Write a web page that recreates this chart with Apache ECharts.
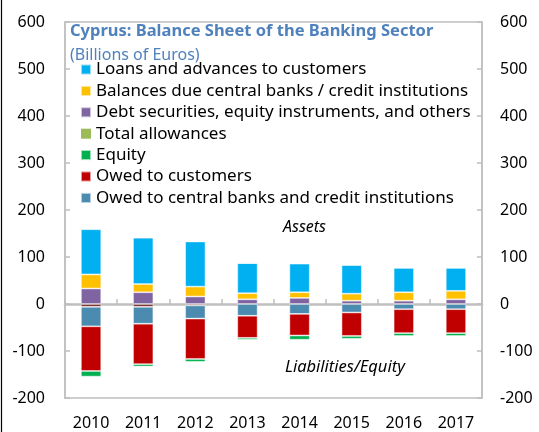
<!DOCTYPE html>
<html>
<head>
<meta charset="utf-8">
<script src="https://cdn.jsdelivr.net/npm/echarts@6/dist/echarts.min.js"></script>
<style>
html,body{margin:0;padding:0;background:#fff;}
#chart{width:539px;height:432px;}
</style>
</head>
<body>
<div id="chart"></div>
<script>
const categories = ['2010','2011','2012','2013','2014','2015','2016','2017'];
const debtSecurities = [33, 25, 16, 10, 13, 7, 7, 10];
const balancesDue = [30, 17.5, 21, 13, 12, 15, 18, 18];
const loans = [96, 98.5, 96, 64, 61, 61, 52, 49];
const totalAllowances = [-6, -6, -3, 0, 0, 0, 0, 0];
const owedCentralBanks = [-41.5, -36, -28, -25, -21, -18, -11, -11];
const owedCustomers = [-95, -86, -86, -47, -46, -50, -51, -51];
const equity = [-12, -5, -6, -4, -9, -6, -6, -6];
const yTicks = { min: -200, max: 600, interval: 100 };

const FONT = 'Noto Sans';
const chart = echarts.init(document.getElementById('chart'), null, {renderer: 'canvas'});
const border = {borderColor: 'rgba(255,255,255,0.6)', borderWidth: 0.8};
function s(name, data, color, extra) {
  return Object.assign({
    name: name, type: 'bar', stack: 'bs', data: data, barWidth: '39%',
    xAxisIndex: 0, yAxisIndex: 0,
    itemStyle: Object.assign({color: color}, border)
  }, extra || {});
}
const option = {
  animation: false,
  textStyle: {fontFamily: FONT},
  legend: {
    orient: 'vertical', left: 80, top: 61, padding: 0,
    itemWidth: 10, itemHeight: 10, itemGap: 4.4,
    icon: 'rect',
    textStyle: {fontSize: 17, color: '#000', lineHeight: 17, fontFamily: FONT},
    data: [
      'Loans and advances to customers',
      'Balances due central banks / credit institutions',
      'Debt securities, equity instruments, and others',
      {name: 'Total allowances', itemStyle: {color: '#9BBB59', borderWidth: 0}},
      'Equity',
      'Owed to customers',
      'Owed to central banks and credit institutions'
    ]
  },
  grid: {left: 65, right: 57, top: 22, bottom: 34, show: true, borderColor: '#BFBFBF', borderWidth: 1.5},
  xAxis: [
    {type: 'category', data: categories, position: 'bottom',
     axisLine: {onZero: true, onZeroAxisIndex: 0, lineStyle: {color: '#BFBFBF', width: 2.5}},
     axisTick: {show: true, inside: true, length: 5, alignWithLabel: false, lineStyle: {color: '#BFBFBF', width: 1.5}},
     axisLabel: {show: false}},
    {type: 'category', data: categories, position: 'bottom', offset: 0,
     axisLine: {show: false}, axisTick: {show: false},
     axisLabel: {show: true, margin: 17, fontSize: 16, color: '#000', fontFamily: FONT}}
  ],
  yAxis: [
    {type: 'value', min: yTicks.min, max: yTicks.max, interval: yTicks.interval, position: 'left',
     splitLine: {show: false},
     axisLine: {show: true, lineStyle: {color: '#BFBFBF', width: 1.5}},
     axisTick: {show: true, inside: true, length: 5, lineStyle: {color: '#BFBFBF', width: 1.5}},
     axisLabel: {margin: 20, fontSize: 16, color: '#000', fontFamily: FONT}},
    {type: 'value', min: yTicks.min, max: yTicks.max, interval: yTicks.interval, position: 'right',
     splitLine: {show: false},
     axisLine: {show: true, lineStyle: {color: '#BFBFBF', width: 1.5}},
     axisTick: {show: true, inside: true, length: 5, lineStyle: {color: '#BFBFBF', width: 1.5}},
     axisLabel: {margin: 18, fontSize: 16, color: '#000', fontFamily: FONT}}
  ],
  series: [
    s('Debt securities, equity instruments, and others', debtSecurities, '#8064A2'),
    s('Balances due central banks / credit institutions', balancesDue, '#FFC000'),
    s('Loans and advances to customers', loans, '#00B0F0'),
    s('Total allowances', totalAllowances, '#7B2C2C'),
    s('Owed to central banks and credit institutions', owedCentralBanks, '#4B8BB0'),
    s('Owed to customers', owedCustomers, '#C00000'),
    s('Equity', equity, '#00B050')
  ],
  graphic: [
    {type: 'line', shape: {x1: 1.5, y1: 0, x2: 1.5, y2: 432}, style: {stroke: '#000', lineWidth: 1.2}},
    {type: 'text', x: 70, y: 31, style: {text: 'Cyprus: Balance Sheet of the Banking Sector', font: 'bold 16.5px "Noto Sans"', fill: '#4F81BD', verticalAlign: 'middle'}},
    {type: 'text', x: 70, y: 55, style: {text: '(Billions of Euros)', font: '16px "Noto Sans"', fill: '#4F81BD', verticalAlign: 'middle'}},
    {type: 'text', x: 283, y: 227, style: {text: 'Assets', font: 'italic 16px "Noto Sans"', fill: '#000', verticalAlign: 'middle'}},
    {type: 'text', x: 285, y: 367, style: {text: 'Liabilities/Equity', font: 'italic 16.5px "Noto Sans"', fill: '#000', verticalAlign: 'middle'}}
  ]
};
chart.setOption(option);
</script>
</body>
</html>
